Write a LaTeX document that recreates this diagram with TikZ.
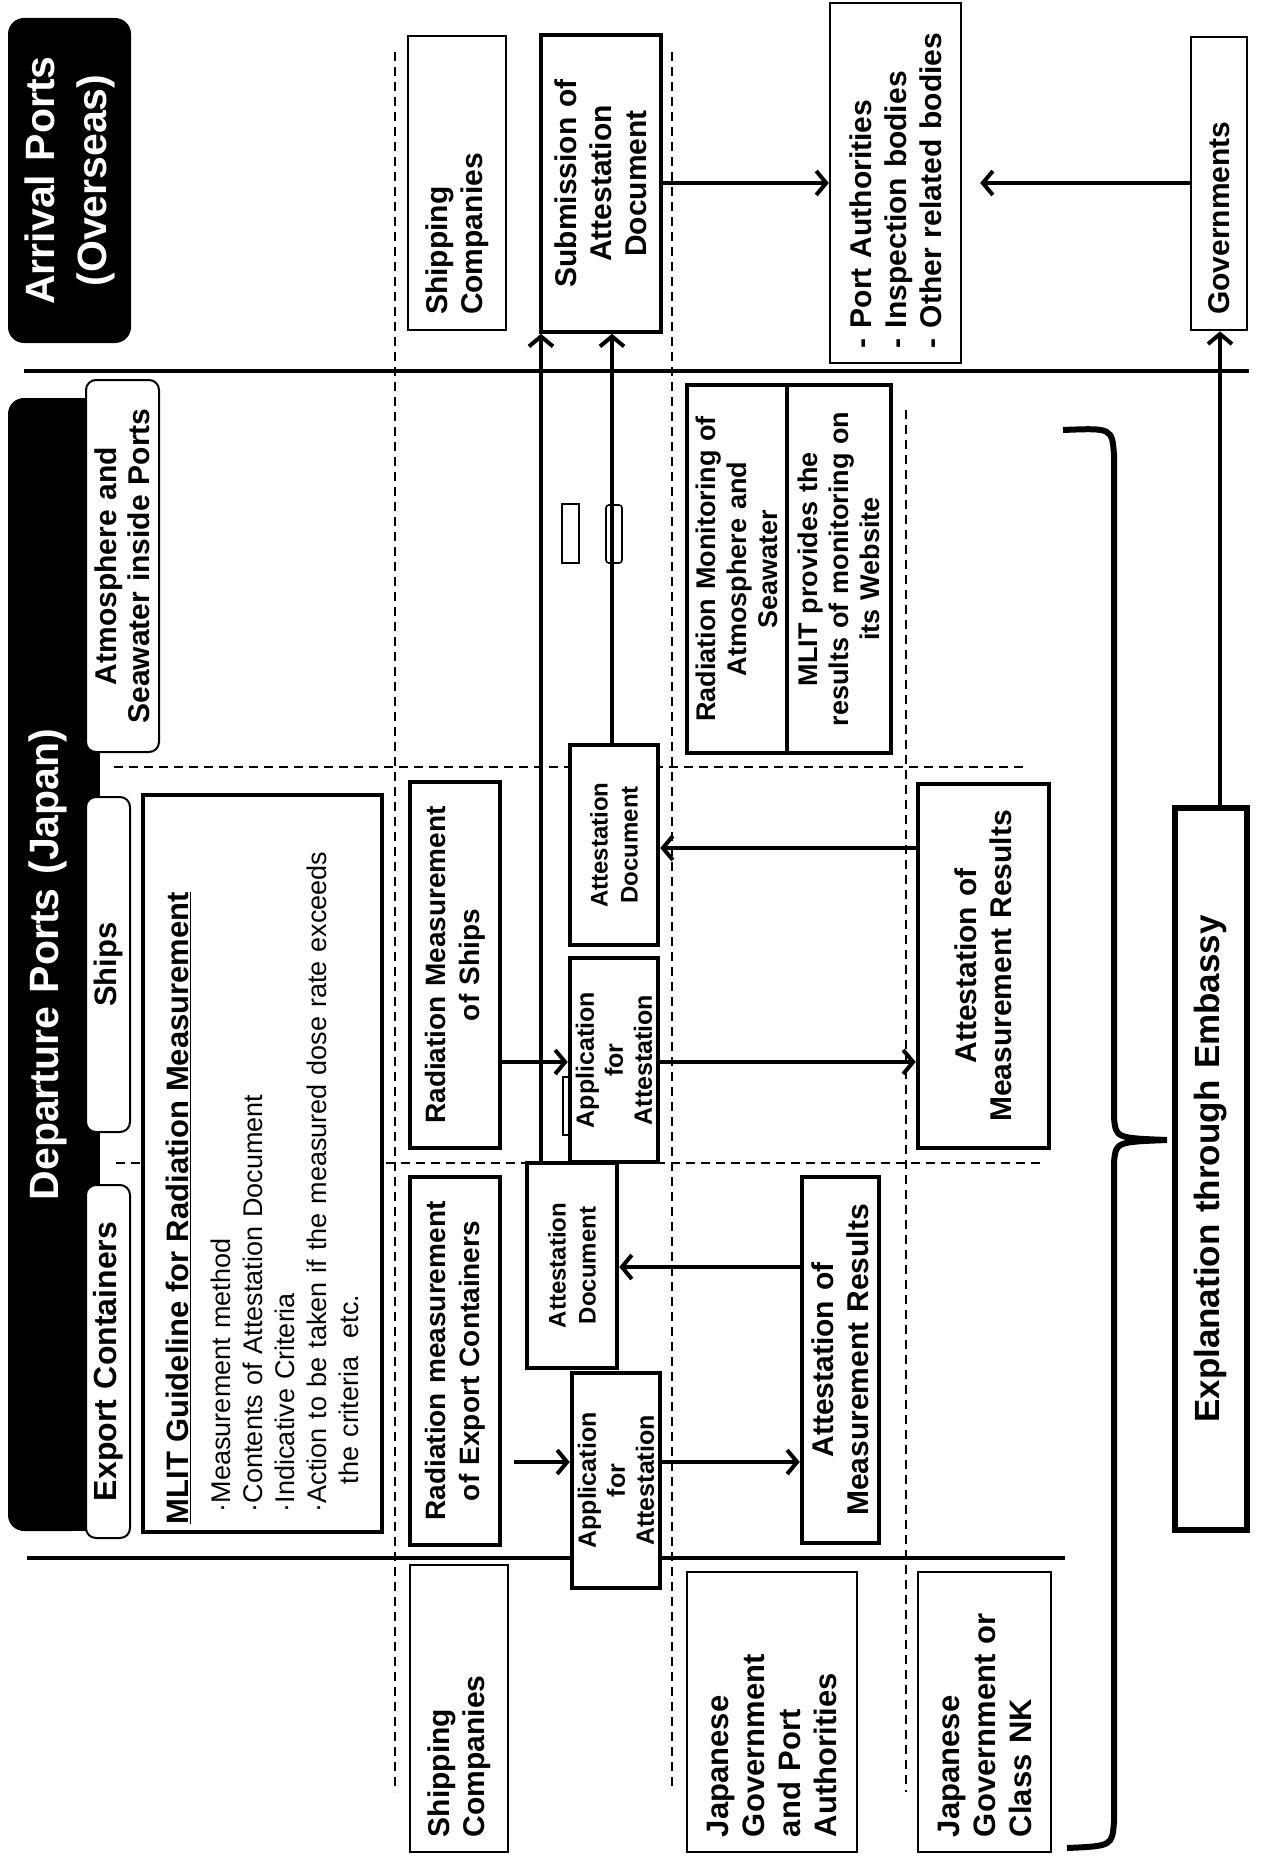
\documentclass[tikz,border=0pt]{standalone}
\usepackage{fontspec}
\setmainfont{Liberation Sans}
\usetikzlibrary{arrows.meta}

\begin{document}
\begin{tikzpicture}[
    x=1pt, y=-1pt,
    every node/.style = {font=\bfseries\fontsize{30}{35}\selectfont, inner sep=4pt},
    titlebox/.style = {fill=black, text=white, rounded corners=16pt, align=center},
    tabbox/.style = {draw, line width=2pt, fill=white, rounded corners=10pt, align=center},
    thinbox/.style = {draw, line width=2.4pt, fill=white, align=left, text width=\sbL pt},
    thickbox/.style = {draw, line width=4.5pt, fill=white, align=center},
    docbox/.style = {thickbox, font=\bfseries\fontsize{24}{30}\selectfont},
    appbox/.style = {thickbox, font=\bfseries\fontsize{25}{29}\selectfont},
    lane/.style = {line width=2.6pt, dash pattern=on 9pt off 6pt},
    divider/.style = {line width=4pt},
    arr/.style = {line width=4pt, -{Straight Barb[length=10pt, width=24pt]}},
    ]

    % box given by its page edges, text turned upwards
    \def\sidebox#1#2#3#4#5#6#7{% name, style, left, top, right, bottom, text
      \pgfmathsetmacro\sbW{#5-#3}%
      \pgfmathsetmacro\sbH{#6-#4}%
      \pgfmathsetmacro\sbT{#6-#4-16}%
      \pgfmathsetmacro\sbL{#6-#4-30}%
      \node[text width=\sbT pt, #2, rotate=90, minimum width=\sbH pt, minimum height=\sbW pt]
        (#1) at ({(#3+#5)/2},{(#4+#6)/2}) {#7};
    }

    \useasboundingbox (0,0) rectangle (1266,1859);

    % lanes
    \draw[lane] (395,52) -- (395,1792);
    \draw[lane] (672,52) -- (672,1790);
    \draw[lane] (906,410) -- (906,1792);
    \draw[lane] (114,767) -- (1026,767);
    \draw[lane] (116,1163) -- (1044,1163);

    % borders between arrival / departure / actors
    \draw[divider] (24,371) -- (1249,371);
    \draw[divider] (27,1558) -- (1065,1558);

    % arrival ports
    \sidebox{arrival}{titlebox, font=\bfseries\fontsize{41}{52}\selectfont}{8}{18}{131}{343}{Arrival Ports\\(Overseas)}
    \sidebox{shipTop}{thinbox}{408}{36}{506}{330}{Shipping\\Companies}
    \sidebox{submit}{thickbox, line width=3.6pt}{541}{35}{661}{332}{Submission of\\Attestation\\Document}
    \sidebox{port}{thinbox}{830}{3}{961}{363}{-\ Port Authorities\\-\ Inspection bodies\\-\ Other related bodies}
    \sidebox{govt}{thinbox, line width=2.8pt}{1191}{37}{1247}{330}{Governments}

    % departure ports
    \fill (60,398) rectangle (100,1531);
    \sidebox{depart}{titlebox, font=\bfseries\fontsize{41}{48}\selectfont}{8}{398}{88}{1531}{Departure Ports (Japan)}
    \sidebox{tabAir}{tabbox, font=\bfseries\fontsize{30}{33}\selectfont}{86}{380}{159}{752}{Atmosphere and\\Seawater inside Ports}
    \sidebox{tabShip}{tabbox, font=\bfseries\fontsize{31}{35}\selectfont}{86}{797}{130}{1132}{Ships}
    \sidebox{tabCont}{tabbox, font=\bfseries\fontsize{32}{36}\selectfont}{86}{1185}{130}{1538}{Export Containers}

    \sidebox{guide}{thickbox, align=left, font=\fontsize{27}{32}\selectfont}{143}{795}{382}{1532}{%
      {\bfseries\fontsize{31}{36}\selectfont\underline{MLIT Guideline for Radiation Measurement}}\\[10pt]
      \hspace*{12pt}·Measurement method\\
      \hspace*{12pt}·Contents of Attestation Document\\
      \hspace*{12pt}·Indicative Criteria\\
      \hspace*{12pt}·Action to be taken if the measured dose rate exceeds\\
      \hspace*{40pt}the criteria\ \ etc.}

    \sidebox{monA}{thickbox, font=\bfseries\fontsize{27}{31}\selectfont}{687}{385}{787}{753}{Radiation Monitoring of\\Atmosphere and\\Seawater}
    \sidebox{monB}{thickbox, font=\bfseries\fontsize{27}{31}\selectfont}{787}{385}{891}{753}{MLIT provides the\\results of monitoring on\\its Website}

    % ships
    \sidebox{measShip}{thickbox, font=\bfseries\fontsize{28}{34}\selectfont}{410}{782}{500}{1148}{Radiation Measurement\\of Ships}
    \sidebox{shipDoc}{docbox}{570}{745}{658}{945}{Attestation\\Document}
    \sidebox{appShip}{appbox}{570}{958}{658}{1162}{Application\\for\\Attestation}
    \sidebox{resShip}{thickbox}{918}{784}{1049}{1148}{Attestation of\\Measurement Results}

    % export containers
    \sidebox{measCont}{thickbox, font=\bfseries\fontsize{28}{34}\selectfont}{410}{1177}{500}{1545}{Radiation measurement\\of Export Containers}
    \sidebox{contDoc}{docbox}{527}{1163}{617}{1368}{Attestation\\Document}
    \sidebox{appCont}{appbox}{572}{1373}{660}{1588}{Application\\for\\Attestation}
    \sidebox{resCont}{thickbox}{802}{1177}{879}{1543}{Attestation of\\Measurement Results}

    % actors
    \sidebox{shipLow}{thinbox}{410}{1565}{508}{1852}{Shipping\\Companies}
    \sidebox{jgPort}{thinbox, font=\bfseries\fontsize{31}{36}\selectfont}{687}{1572}{857}{1852}{Japanese\\Government\\and Port\\Authorities}
    \sidebox{jgClass}{thinbox, font=\bfseries\fontsize{31}{36}\selectfont}{918}{1572}{1051}{1852}{Japanese\\Government or\\Class NK}
    \sidebox{embassy}{thickbox, line width=5.5pt, font=\bfseries\fontsize{35}{40}\selectfont}{1175}{808}{1247}{1530}{Explanation through Embassy}

    % brace over the actors
    \draw[line width=6pt] (1063,430) .. controls (1112,428) .. (1114,455) -- (1114,1118)
      .. controls (1116,1138) .. (1167,1140) .. controls (1116,1142) .. (1114,1162)
      -- (1114,1822) .. controls (1112,1846) .. (1067,1848);

    % stray marks
    \draw[line width=1.6pt] (562,504) rectangle (579,563);
    \draw[line width=1.6pt, rounded corners=3pt] (606,505) rectangle (622,563);
    \draw[line width=1.6pt] (563,1077) rectangle (570,1135);

    \coordinate (colA) at (541,0);
    \coordinate (colB) at (612,0);
    \coordinate (colG) at (1220,0);
    \coordinate (rowTop) at (0,183);
    \coordinate (rowShipA) at (0,1062);
    \coordinate (rowShipB) at (0,848);
    \coordinate (rowContA) at (0,1462);
    \coordinate (rowContB) at (0,1267);

    % documents -> arrival port
    \draw[arr] (contDoc.east -| colA) -- (submit.west -| colA);
    \draw[arr] (shipDoc.east -| colB) -- (submit.west -| colB);
    \draw[arr] (submit.south |- rowTop) -- (port.north |- rowTop);
    \draw[arr, shorten >=18pt] (govt.north |- rowTop) -- (port.south |- rowTop);
    \draw[arr] (embassy.east -| colG) -- (govt.west -| colG);

    % ships
    \draw[arr] (measShip.south |- rowShipA) -- (appShip.north |- rowShipA);
    \draw[arr] (appShip.south |- rowShipA) -- (resShip.north |- rowShipA);
    \draw[arr] (resShip.north |- rowShipB) -- (shipDoc.south |- rowShipB);

    % export containers
    \draw[arr, shorten <=12pt] (measCont.south |- rowContA) -- (appCont.north |- rowContA);
    \draw[arr] (appCont.south |- rowContA) -- (resCont.north |- rowContA);
    \draw[arr] (resCont.north |- rowContB) -- (contDoc.south |- rowContB);

\end{tikzpicture}
\end{document}
